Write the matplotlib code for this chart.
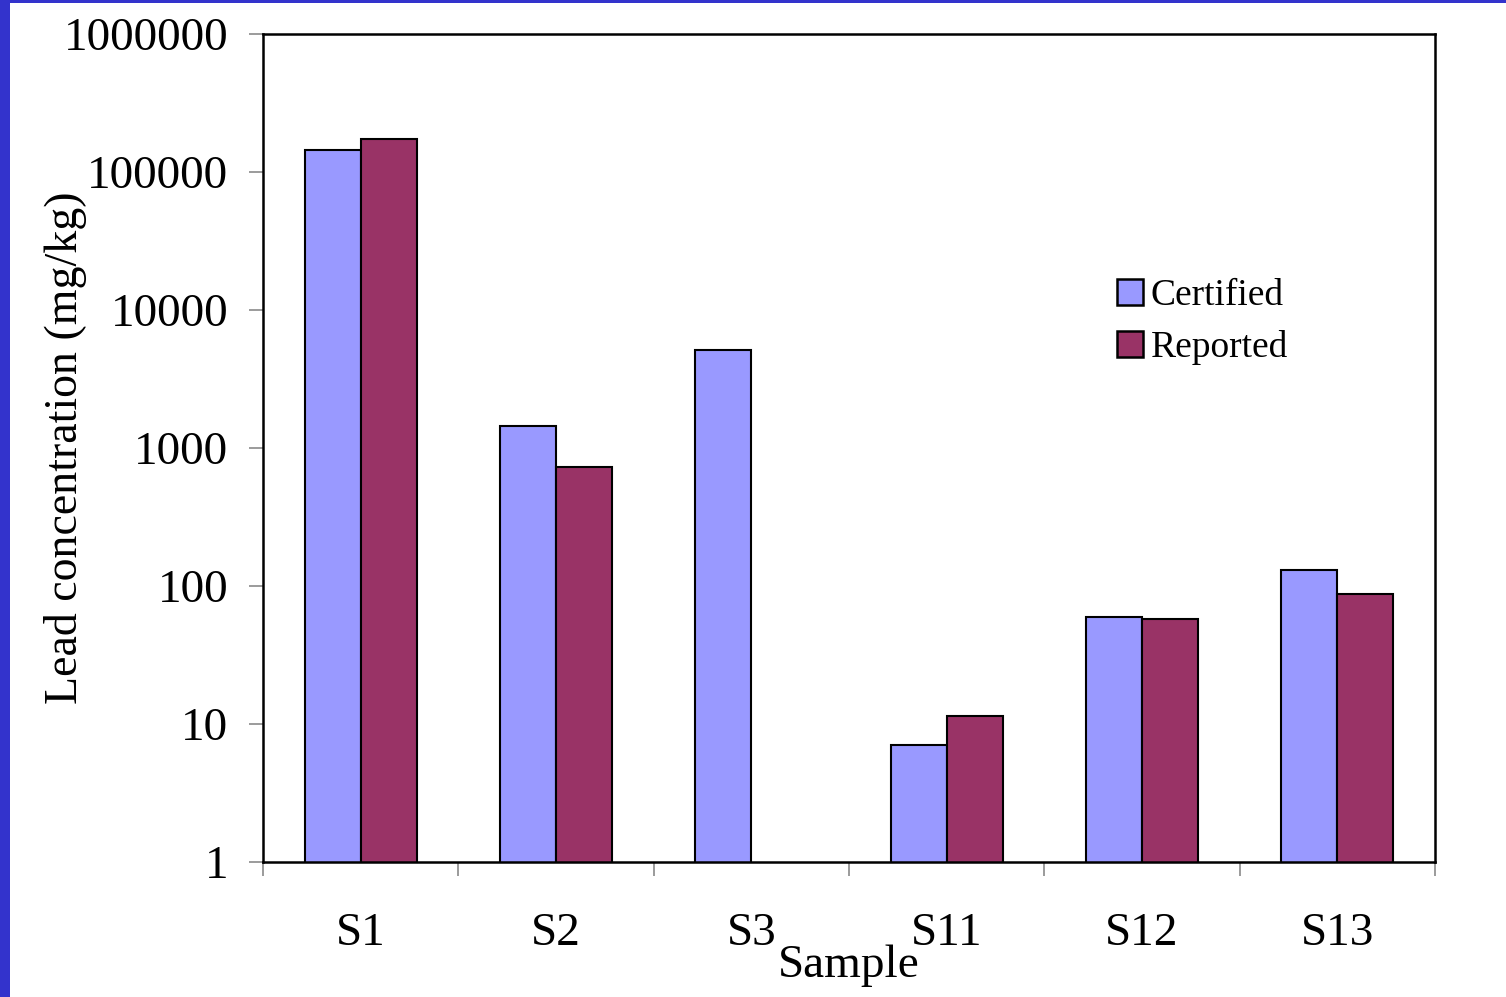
import numpy as np
import matplotlib
matplotlib.use("Agg")
import matplotlib.pyplot as plt
from matplotlib.patches import Rectangle

samples = ["S1", "S2", "S3", "S11", "S12", "S13"]
certified = [144000, 1440, 5130, 7.0, 59.6, 130]
reported = [173000, 728, np.nan, 11.4, 57.6, 87.5]
ytick_vals = [1, 10, 100, 1000, 10000, 100000, 1000000]
ytick_labels = ["1", "10", "100", "1000", "10000", "100000", "1000000"]

plt.rcParams['font.family'] = ['Liberation Serif', 'DejaVu Serif']

W, H = 1506, 997
fig = plt.figure(figsize=(W / 100, H / 100), dpi=100)
fig.patch.set_facecolor('white')

# blue frame stripes
fig.add_artist(Rectangle((0, 0), 10 / W, 1, transform=fig.transFigure,
                         facecolor='#3333CC', edgecolor='none', zorder=0))
fig.add_artist(Rectangle((0, 1 - 3 / H), 1, 3 / H, transform=fig.transFigure,
                         facecolor='#3333CC', edgecolor='none', zorder=0))

ax = fig.add_axes([263 / W, 1 - 862 / H, 1172 / W, 828 / H])

x = np.arange(len(samples))
bw = 0.287
ax.bar(x - bw / 2, certified, width=bw, color='#9999FF', edgecolor='black',
       linewidth=1.5, label='Certified', log=True)
ax.bar(x + bw / 2, reported, width=bw, color='#993366', edgecolor='black',
       linewidth=1.5, label='Reported', log=True)

ax.set_yscale('log')
ax.set_ylim(1, 1e6)
ax.set_xlim(-0.5, len(samples) - 0.5)

ax.yaxis.set_major_locator(matplotlib.ticker.FixedLocator(ytick_vals))
ax.yaxis.set_minor_locator(matplotlib.ticker.NullLocator())
ax.set_yticklabels(ytick_labels)
ax.tick_params(axis='y', which='major', direction='out', length=10, width=1.1,
               color='#808080', pad=15, labelsize=34)

ax.set_xticks(x)
ax.set_xticklabels(samples)
ax.set_xticks(np.arange(len(samples) + 1) - 0.5, minor=True)
ax.tick_params(axis='x', which='major', length=0, pad=36, labelsize=34)
ax.tick_params(axis='x', which='minor', direction='out', length=10, width=1.1,
               color='#808080')

for sp in ax.spines.values():
    sp.set_linewidth(1.8)
    sp.set_color('black')

ax.set_xlabel('Sample', fontsize=34)
ax.xaxis.label.set_va('center')
ax.xaxis.set_label_coords(0.5, -(966 - 862) / 828)

ax.set_ylabel('Lead concentration (mg/kg)', fontsize=33)
ax.yaxis.label.set_va('center')
ax.yaxis.set_label_coords(-(263 - 65) / 1172, 0.5)

leg = fig.legend(loc='center left', bbox_to_anchor=(1117 / W, 1 - 322 / H),
                 frameon=False, fontsize=27, handlelength=0.7, handleheight=0.7,
                 handletextpad=0.2, labelspacing=0.45, borderpad=0, borderaxespad=0)
for p in leg.get_patches():
    p.set_linewidth(1.8)

fig.savefig('out.png', dpi=100, facecolor='white')
